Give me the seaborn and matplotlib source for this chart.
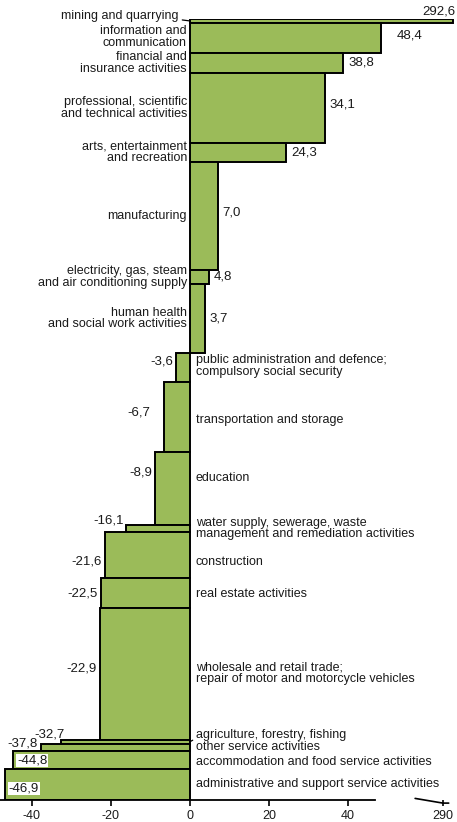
import matplotlib
matplotlib.use("Agg")
import matplotlib.pyplot as plt
import numpy as np
import seaborn as sns

# sectors from top to bottom, change in value (%) and share used as bar thickness
sectors = [
    "mining and quarrying",
    "information and\ncommunication",
    "financial and\ninsurance activities",
    "professional, scientific\nand technical activities",
    "arts, entertainment\nand recreation",
    "manufacturing",
    "electricity, gas, steam\nand air conditioning supply",
    "human health\nand social work activities",
    "public administration and defence;\ncompulsory social security",
    "transportation and storage",
    "education",
    "water supply, sewerage, waste\nmanagement and remediation activities",
    "construction",
    "real estate activities",
    "wholesale and retail trade;\nrepair of motor and motorcycle vehicles",
    "agriculture, forestry, fishing",
    "other service activities",
    "accommodation and food service activities",
    "administrative and support service activities",
]
change = [292.6, 48.4, 38.8, 34.1, 24.3, 7.0, 4.8, 3.7, -3.6, -6.7, -8.9,
          -16.1, -21.6, -22.5, -22.9, -32.7, -37.8, -44.8, -46.9]
share = [0.5, 3.8, 2.6, 9.0, 2.4, 13.8, 1.8, 8.8, 3.7, 9.0, 9.3,
         0.9, 5.9, 3.8, 16.9, 0.5, 0.9, 2.3, 4.0]

xticks = [-40, -20, 0, 20, 40, 290]

# broken axis: values above the break are shifted left
BREAK_SHIFT = 226


def to_axis(v):
    return v - BREAK_SHIFT if v > 100 else v


# label nudges in screen pixels (down is positive)
name_dy = {1: -1, 8: -1, 9: 3, 10: -10, 12: 7, 13: 1, 17: 2}
val_dy = {1: -2, 3: -4, 5: -3, 8: -6, 9: -4, 10: -16, 11: -8, 12: 7,
          13: 1, 14: -5, 16: -4, 17: 1, 18: 4}
val_dx = {1: 11, 9: -10}

sns.set_theme(style="white")
plt.rcParams["font.family"] = ["Liberation Sans", "DejaVu Sans"]
TXT = "#1a1a1a"

fig = plt.figure(figsize=(4.57, 8.22), dpi=100)
ax = fig.add_axes([0.0, 0.0268, 1.0, 0.9501])

share = np.array(share)
tops = np.concatenate([[0], np.cumsum(share)[:-1]])
centers = tops + share / 2
widths = [to_axis(v) for v in change]

ax.barh(centers, widths, height=share, color="#9bbb59", edgecolor="black",
        linewidth=1.4, zorder=2)

fs_name = 9
fs_val = 9.5
line_kw = dict(arrowstyle="-", color="black", lw=0.9, shrinkA=0, shrinkB=0)

for i, (name, v, w, c) in enumerate(zip(sectors, change, widths, centers)):
    lab = f"{v:.1f}".replace(".", ",")
    # sector names
    if i == 0:
        ax.annotate(name, xy=(0, c), xytext=(-11, 5), textcoords="offset pixels",
                    ha="right", va="center", fontsize=fs_name, color=TXT,
                    arrowprops=dict(relpos=(1, 0.2), **line_kw))
    elif i == 15:
        ax.annotate(name, xy=(0, c), xytext=(6, 7), textcoords="offset pixels",
                    ha="left", va="center", fontsize=fs_name, color=TXT,
                    arrowprops=dict(relpos=(0, 0.2), **line_kw))
    else:
        ax.annotate(name, xy=(0, c), xytext=(-3 if v > 0 else 6, -name_dy.get(i, 0)),
                    textcoords="offset pixels", ha="right" if v > 0 else "left",
                    va="center", fontsize=fs_name, color=TXT, linespacing=0.95)

    # values
    dy = -val_dy.get(i, 0)
    dx = val_dx.get(i, 0)
    if i == 0:
        ax.annotate(lab, xy=(w, c), xytext=(2, 3), textcoords="offset pixels",
                    ha="right", va="bottom", fontsize=fs_val, color=TXT)
    elif i == 15:
        ax.annotate(lab, xy=(w, c), xytext=(-11, 7), textcoords="offset pixels",
                    ha="center", va="center", fontsize=fs_val, color=TXT)
    elif i in (17, 18):
        ax.annotate(lab, xy=(w, c), xytext=(4, dy), textcoords="offset pixels",
                    ha="left", va="center", fontsize=fs_val, color=TXT, zorder=3,
                    bbox=dict(facecolor="white", edgecolor="none", pad=0.5))
    elif v > 0:
        ax.annotate(lab, xy=(w, c), xytext=(5 + dx, dy), textcoords="offset pixels",
                    ha="left", va="center", fontsize=fs_val, color=TXT)
    else:
        ax.annotate(lab, xy=(w, c), xytext=(-3 + dx, dy), textcoords="offset pixels",
                    ha="right", va="center", fontsize=fs_val, color=TXT)

ax.set_ylim(share.sum(), 0)
ax.set_xlim(-48.1, 67.6)

ax.set_xticks([to_axis(t) for t in xticks])
ax.set_xticklabels([str(t) for t in xticks], fontsize=9)
ax.tick_params(axis="x", direction="out", length=4, width=1.2, color="black",
               pad=3, labelcolor=TXT, bottom=True)
ax.set_yticks([])

for side in ["top", "left", "right"]:
    ax.spines[side].set_visible(False)
ax.spines["bottom"].set_color("black")
ax.spines["bottom"].set_linewidth(1.3)
ax.spines["bottom"].set_bounds(-48.1, 46.8)

# break mark on the right of the axis
ax.plot([57, 64, 65.5], [0.002, -0.004, -0.004], color="black", lw=1.2,
        transform=ax.get_xaxis_transform(), clip_on=False)

fig.savefig("out.png", dpi=100)
plt.close(fig)
